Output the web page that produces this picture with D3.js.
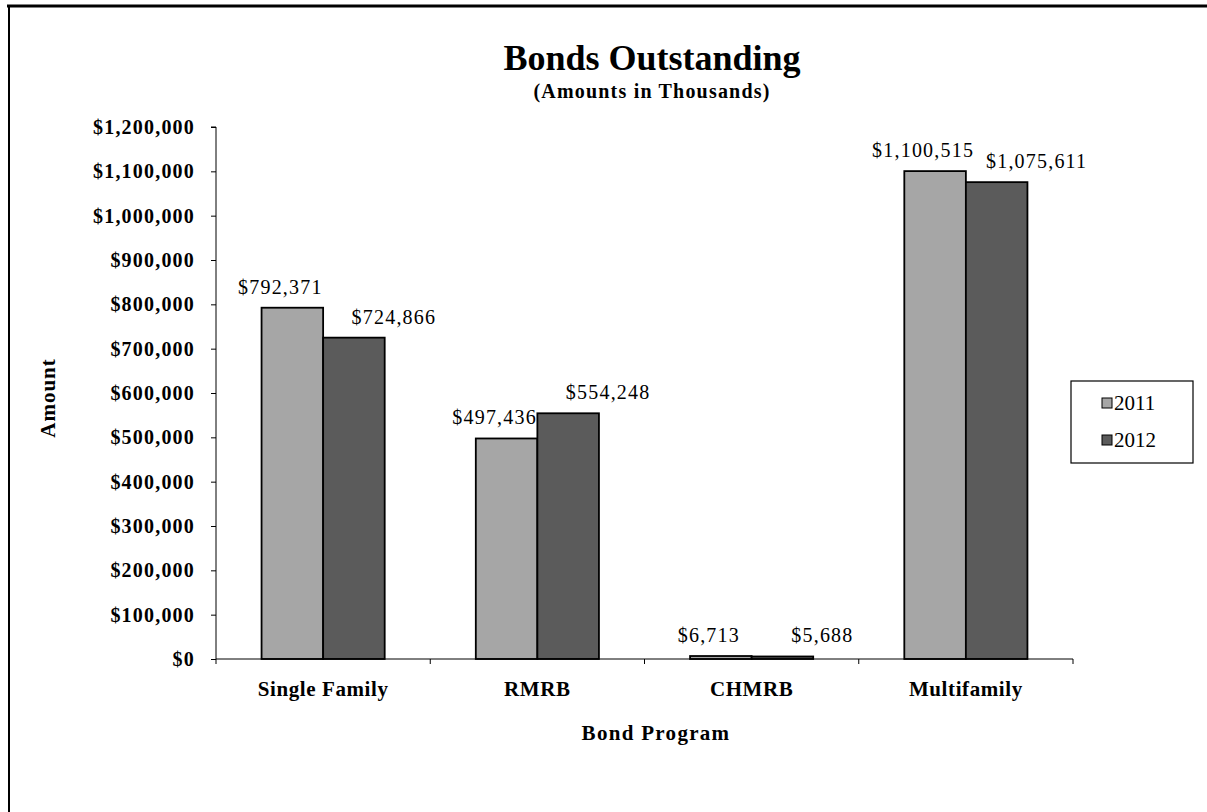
<!DOCTYPE html>
<html>
<head>
<meta charset="utf-8">
<script src="https://cdn.jsdelivr.net/npm/d3@7"></script>
<style>
  body { margin: 0; background: #fff; }
  svg { display: block; font-family: "Liberation Serif", "Times New Roman", serif; }
</style>
</head>
<body>
<svg id="chart" width="1207" height="812"></svg>
<script>
// chart data
const categories = ["Single Family", "RMRB", "CHMRB", "Multifamily"];
const seriesNames = ["2011", "2012"];
const values2011 = [792371, 497436, 6713, 1100515];
const values2012 = [724866, 554248, 5688, 1075611];
const yTicks = [0, 100000, 200000, 300000, 400000, 500000, 600000, 700000, 800000, 900000, 1000000, 1100000, 1200000];

const colors = { "2011": "#a6a6a6", "2012": "#5b5b5b" };
const labelShift = { "2011": -12, "2012": 40 };

const svg = d3.select("#chart");

// frame
svg.append("line").attr("x1", 7).attr("x2", 1207).attr("y1", 6).attr("y2", 6)
  .style("stroke", "#000").style("stroke-width", 3);
svg.append("line").attr("x1", 9).attr("x2", 9).attr("y1", 5).attr("y2", 812)
  .style("stroke", "#000").style("stroke-width", 2);

const plotL = 216, plotR = 1073, plotT = 127, plotB = 659;

const x0 = d3.scaleBand().domain(categories).range([plotL, plotR]).padding(0);
const x1 = d3.scaleBand().domain(seriesNames).range([0, x0.bandwidth()]).paddingOuter(0.74).paddingInner(0);
const y = d3.scaleLinear().domain([0, 1200000]).range([plotB, plotT]);

const rows = categories.map((c, i) => ({ cat: c, vals: [
  { s: "2011", v: values2011[i] },
  { s: "2012", v: values2012[i] }
]}));

// bars
const g = svg.append("g");
const groups = g.selectAll("g.cat").data(rows).join("g")
  .attr("transform", d => `translate(${x0(d.cat)},0)`);

groups.selectAll("rect").data(d => d.vals).join("rect")
  .attr("x", d => x1(d.s))
  .attr("y", d => y(d.v))
  .attr("width", x1.bandwidth())
  .attr("height", d => plotB - y(d.v))
  .style("fill", d => colors[d.s])
  .style("stroke", "#000")
  .style("stroke-width", 1.8);

groups.selectAll("text").data(d => d.vals).join("text")
  .attr("x", d => x1(d.s) + x1.bandwidth() / 2 + labelShift[d.s])
  .attr("y", d => y(d.v) - 14)
  .attr("text-anchor", "middle")
  .style("font-size", "20px")
  .style("letter-spacing", "1.2px")
  .text(d => "$" + d3.format(",")(d.v));

// y axis
const yAxis = d3.axisLeft(y).tickValues(yTicks).tickSize(5).tickPadding(16)
  .tickFormat(d => "$" + d3.format(",")(d));
svg.append("g").attr("transform", `translate(${plotL},0)`).call(yAxis)
  .call(a => a.select(".domain").attr("d", `M-5,${plotT}H0V${plotB}`))
  .selectAll("text")
  .style("font-family", "Liberation Serif, serif")
  .style("font-size", "20px")
  .style("font-weight", "bold")
  .style("letter-spacing", "1.2px")
  .style("fill", "#000");

// x axis
svg.append("line").attr("x1", plotL).attr("x2", plotR).attr("y1", plotB).attr("y2", plotB)
  .style("stroke", "#000");
svg.selectAll("line.xtick").data(categories.concat([null])).join("line")
  .attr("class", "xtick")
  .attr("x1", (d, i) => plotL + i * x0.step())
  .attr("x2", (d, i) => plotL + i * x0.step())
  .attr("y1", plotB).attr("y2", plotB + 5)
  .style("stroke", "#000");
svg.selectAll("text.xlab").data(categories).join("text")
  .attr("class", "xlab")
  .attr("x", d => x0(d) + x0.bandwidth() / 2)
  .attr("y", 696)
  .attr("text-anchor", "middle")
  .style("font-size", "21px")
  .style("font-weight", "bold")
  .style("letter-spacing", "0.6px")
  .text(d => d);

// titles
svg.append("text").attr("x", 652).attr("y", 70).attr("text-anchor", "middle")
  .style("font-size", "36px").style("font-weight", "bold").text("Bonds Outstanding");
svg.append("text").attr("x", 652).attr("y", 98).attr("text-anchor", "middle")
  .style("font-size", "20px").style("font-weight", "bold").style("letter-spacing", "1.2px")
  .text("(Amounts in Thousands)");
svg.append("text").attr("x", 656).attr("y", 740).attr("text-anchor", "middle")
  .style("font-size", "21px").style("font-weight", "bold").style("letter-spacing", "1.3px")
  .text("Bond Program");
svg.append("text").attr("transform", "translate(55,398) rotate(-90)").attr("text-anchor", "middle")
  .style("font-size", "21px").style("font-weight", "bold").style("letter-spacing", "1px")
  .text("Amount");

// legend
const legend = svg.append("g").attr("transform", "translate(1071,381)");
legend.append("rect").attr("width", 122).attr("height", 82)
  .style("fill", "#fff").style("stroke", "#000").style("stroke-width", 1.2);
const items = legend.selectAll("g").data(seriesNames).join("g")
  .attr("transform", (d, i) => `translate(31,${26 + i * 37})`);
items.append("rect").attr("x", 0).attr("y", -9).attr("width", 10).attr("height", 10)
  .style("fill", d => colors[d]).style("stroke", "#000");
items.append("text").attr("x", 12).attr("y", 3).style("font-size", "21px").text(d => d);
</script>
</body>
</html>
